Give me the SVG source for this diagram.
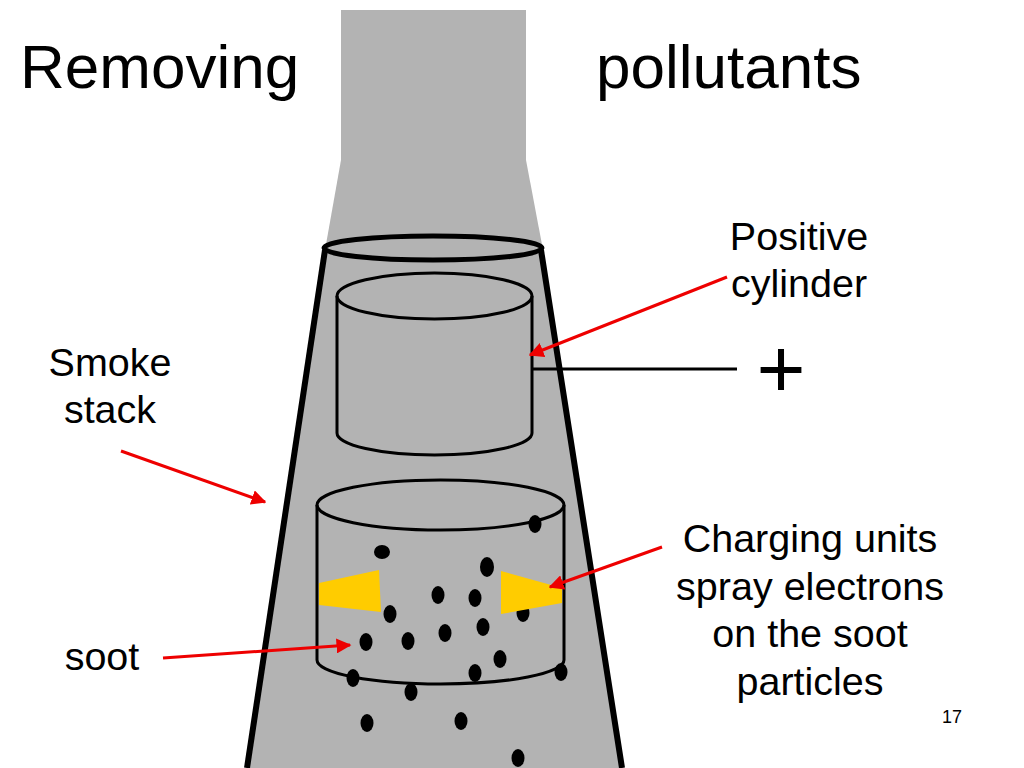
<svg xmlns="http://www.w3.org/2000/svg" width="1024" height="768" viewBox="0 0 1024 768">
<style>
text{font-family:"Liberation Sans",Arial,sans-serif;fill:#000}
.t{font-size:62px}.l{font-size:39.5px;text-anchor:middle}
.cyl{fill:none;stroke:#000;stroke-width:3}
.dot{fill:#000}
.y{fill:#fc0}
.arr{stroke:#e00;stroke-width:3;fill:none;marker-end:url(#ah)}
</style>
<defs><marker id="ah" viewBox="0 0 10 10" refX="9" refY="5" markerWidth="5" markerHeight="5" orient="auto"><path d="M0,0L10,5L0,10z" fill="#e00"/></marker></defs>
<rect width="1024" height="768" fill="#fff"/>
<g id="stack">
<rect x="341" y="10" width="185" height="160" fill="#b3b3b3"/>
<polygon points="341,160 526,160 543,250 622,768 247,768 325,250" fill="#b3b3b3"/>
<line x1="325" y1="250" x2="247" y2="768" stroke="#000" stroke-width="6"/>
<line x1="541" y1="250" x2="622" y2="768" stroke="#000" stroke-width="6"/>
<ellipse cx="433" cy="248" rx="109" ry="12" fill="none" stroke="#000" stroke-width="5"/>
</g>
<g id="positive-cylinder">
<path class="cyl" d="M337,296V433A97.5,22 0 0 0 532,433V296"/>
<ellipse class="cyl" cx="434.5" cy="296" rx="97.5" ry="23"/>
<line x1="532" y1="369" x2="737" y2="369" stroke="#000" stroke-width="3"/>
<text x="781" y="397" font-size="84" text-anchor="middle">+</text>
</g>
<g id="charging-cylinder">
<path class="cyl" d="M317,505V660A123.5,24 0 0 0 564,660V505"/>
<ellipse class="cyl" cx="440.5" cy="505" rx="123.5" ry="25"/>
</g>
<g id="soot">
<ellipse class="dot" cx="535" cy="524" rx="6.5" ry="9"/>
<ellipse class="dot" cx="382" cy="552" rx="8" ry="7"/>
<ellipse class="dot" cx="487" cy="567" rx="7" ry="10"/>
<ellipse class="dot" cx="438" cy="595" rx="6.5" ry="9"/>
<ellipse class="dot" cx="475" cy="598" rx="6.5" ry="9"/>
<ellipse class="dot" cx="390" cy="614" rx="6.5" ry="9"/>
<ellipse class="dot" cx="523" cy="613" rx="6.5" ry="9"/>
<ellipse class="dot" cx="445" cy="633" rx="6.5" ry="9"/>
<ellipse class="dot" cx="483" cy="627" rx="6.5" ry="9"/>
<ellipse class="dot" cx="366" cy="642" rx="6.5" ry="9"/>
<ellipse class="dot" cx="408" cy="641" rx="6.5" ry="9"/>
<ellipse class="dot" cx="500" cy="659" rx="6.5" ry="9"/>
<ellipse class="dot" cx="353" cy="678" rx="6.5" ry="9"/>
<ellipse class="dot" cx="475" cy="673" rx="6.5" ry="9"/>
<ellipse class="dot" cx="561" cy="672" rx="6.5" ry="9"/>
<ellipse class="dot" cx="411" cy="692" rx="6.5" ry="9"/>
<ellipse class="dot" cx="367" cy="723" rx="6.5" ry="9"/>
<ellipse class="dot" cx="461" cy="721" rx="6.5" ry="9"/>
<ellipse class="dot" cx="518" cy="758" rx="6.5" ry="9"/>
</g>
<g id="charging-units">
<polygon class="y" points="319,583 379,570 381,612 319,605"/>
<polygon class="y" points="501,571 562,588 562,603 501,614"/>
</g>
<g id="connectors">
<line class="arr" x1="727" y1="277" x2="530" y2="355"/>
<line class="arr" x1="121" y1="451" x2="265" y2="502"/>
<line class="arr" x1="163" y1="658" x2="350" y2="645"/>
<line class="arr" x1="662" y1="547" x2="550" y2="587"/>
</g>
<g id="labels">
<text class="t" x="20" y="88">Removing</text>
<text class="t" x="596" y="88">pollutants</text>
<text class="l" x="799" y="250">Positive</text>
<text class="l" x="799" y="297">cylinder</text>
<text class="l" x="110" y="376">Smoke</text>
<text class="l" x="110" y="423">stack</text>
<text class="l" x="102" y="670">soot</text>
<text class="l" x="810" y="552">Charging units</text>
<text class="l" x="810" y="600">spray electrons</text>
<text class="l" x="810" y="647">on the soot</text>
<text class="l" x="810" y="695">particles</text>
<text x="952" y="723" font-size="18" text-anchor="middle">17</text>
</g>
</svg>
